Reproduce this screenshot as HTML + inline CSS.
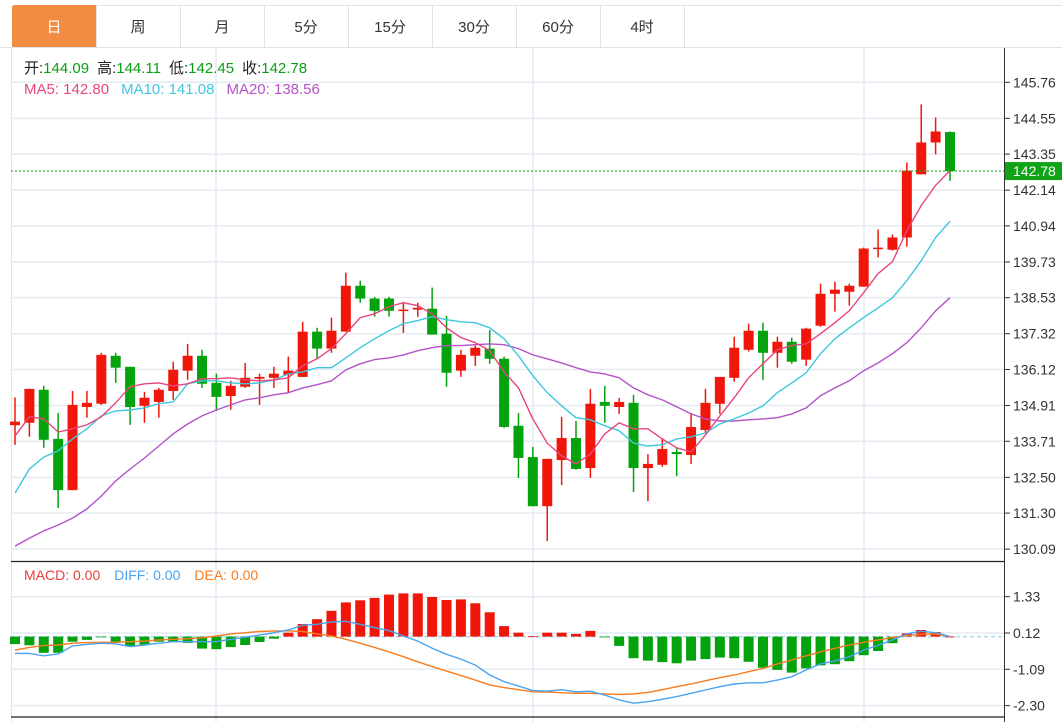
<!DOCTYPE html>
<html><head><meta charset="utf-8">
<style>
body{margin:0;background:#fff;width:1062px;height:722px;overflow:hidden;font-family:"Liberation Sans","Noto Sans CJK SC",sans-serif;}
svg{display:block}
</style></head>
<body>
<svg id="chart" width="1062" height="722" viewBox="0 0 1062 722" xmlns="http://www.w3.org/2000/svg" font-family="Liberation Sans, Noto Sans CJK SC, sans-serif">
  <g id="tabs"></g>
  <line x1="0" y1="47.5" x2="1062" y2="47.5" stroke="#dde3ea"/>
  <g id="grid"></g>
  <g id="candles"></g>
  <g id="malines"></g>
  <g id="macd"></g>
  <g id="axis"></g>
  <g font-size="15">
    <text x="24" y="73"><tspan fill="#222">开:</tspan><tspan fill="#0a9e14">144.09</tspan><tspan fill="#222" dx="8">高:</tspan><tspan fill="#0a9e14">144.11</tspan><tspan fill="#222" dx="8">低:</tspan><tspan fill="#0a9e14">142.45</tspan><tspan fill="#222" dx="8">收:</tspan><tspan fill="#0a9e14">142.78</tspan></text>
    <text x="24" y="94"><tspan fill="#e8457e">MA5: 142.80</tspan><tspan fill="#3ec7dd" dx="12">MA10: 141.08</tspan><tspan fill="#b452c8" dx="12">MA20: 138.56</tspan></text>
  </g>
  <g font-size="14">
    <text x="24" y="580"><tspan fill="#e8403a">MACD: 0.00</tspan><tspan fill="#4aa3f0" dx="14">DIFF: 0.00</tspan><tspan fill="#f57c20" dx="14">DEA: 0.00</tspan></text>
  </g>
</svg>
<script>
const tabLabels=["日","周","月","5分","15分","30分","60分","4时"];
const opens=[134.25,134.33,135.44,133.79,132.07,134.86,134.97,136.58,136.21,134.90,135.03,135.40,136.08,136.58,135.67,135.23,135.54,135.81,135.84,135.94,135.87,137.39,136.82,137.39,138.93,138.50,138.50,138.09,138.13,138.16,137.32,136.08,136.58,136.82,136.48,134.23,133.18,131.53,133.08,133.82,132.81,135.03,134.86,135.00,132.81,132.92,133.35,133.25,134.09,134.97,135.84,136.78,137.42,136.68,137.05,136.45,137.59,138.66,138.73,138.90,140.18,140.14,140.55,142.67,143.74,144.09];
const closes=[134.37,135.47,133.76,132.07,134.93,135.00,136.61,136.18,134.86,135.17,135.44,136.11,136.58,135.64,135.20,135.57,135.84,135.87,135.98,136.08,137.39,136.82,137.42,138.93,138.50,138.09,138.09,138.13,138.19,137.29,136.01,136.61,136.85,136.48,134.19,133.15,131.53,133.12,133.82,132.78,134.97,134.90,135.03,132.81,132.95,133.45,133.28,134.19,135.00,135.87,136.85,137.42,136.68,137.05,136.38,137.49,138.66,138.80,138.93,140.18,140.21,140.55,142.80,143.74,144.11,142.78];
const highs=[135.18,135.47,135.57,134.66,135.40,135.40,136.68,136.68,136.21,135.37,135.50,136.38,136.98,136.78,135.98,135.74,136.34,135.98,136.21,136.55,137.72,137.52,137.86,139.37,139.10,138.56,138.56,138.39,138.36,138.87,137.92,136.78,136.92,137.45,136.55,134.66,133.52,133.12,134.53,134.39,135.47,135.57,135.17,135.27,133.28,133.82,133.49,134.66,135.47,135.87,137.22,137.66,137.69,137.22,137.19,137.52,139.00,139.07,139.00,140.21,140.82,140.65,143.07,145.02,144.58,144.11];
const lows=[133.59,133.86,133.49,131.47,132.07,134.50,134.93,135.67,134.26,134.33,134.50,135.10,135.77,135.50,134.73,134.77,135.50,134.93,135.50,135.33,135.87,136.48,136.68,137.39,138.36,137.89,137.89,137.35,137.89,137.29,135.54,135.87,136.24,136.31,134.16,132.48,131.53,130.36,132.24,132.75,132.48,134.33,134.63,132.01,131.70,132.85,132.54,132.95,133.96,134.63,135.71,136.72,135.77,136.18,136.31,136.24,137.55,138.06,138.26,138.90,139.88,140.11,140.24,142.67,143.34,142.45];
const ma5=[133.89,134.53,134.46,134.02,134.13,134.26,134.53,135.00,135.54,135.64,135.67,135.57,135.64,135.81,135.81,135.84,135.77,135.74,135.77,135.84,136.24,136.48,136.82,137.32,137.86,137.99,138.23,138.36,138.26,137.99,137.52,137.19,137.02,136.75,136.04,135.50,134.46,133.65,133.22,132.95,133.28,133.96,134.33,134.13,134.13,133.79,133.49,133.35,133.92,134.56,135.17,135.84,136.31,136.78,136.92,136.98,137.32,137.69,138.09,138.70,139.34,139.74,140.78,141.62,142.30,142.80];
const ma10=[131.97,132.78,133.18,133.39,133.79,134.13,134.56,134.73,134.76,134.83,134.97,135.03,135.64,135.74,135.74,135.67,135.64,135.67,135.77,135.97,136.04,136.18,136.18,136.51,136.85,137.15,137.42,137.66,137.76,137.89,137.79,137.72,137.69,137.52,137.15,136.58,135.91,135.34,134.90,134.50,134.43,134.23,134.06,133.65,133.55,133.59,133.79,133.86,133.99,134.29,134.46,134.66,134.90,135.34,135.67,136.01,136.65,137.15,137.52,137.86,138.19,138.53,139.10,139.77,140.55,141.09];
const ma20=[130.19,130.46,130.70,130.90,131.13,131.44,131.87,132.38,132.78,133.15,133.55,133.96,134.29,134.56,134.76,134.93,135.10,135.17,135.27,135.34,135.50,135.61,135.74,136.11,136.31,136.45,136.51,136.61,136.75,136.85,136.92,136.92,136.95,136.98,136.95,136.82,136.61,136.48,136.34,136.18,136.04,135.97,135.84,135.50,135.27,135.10,134.87,134.63,134.46,134.39,134.39,134.43,134.46,134.50,134.63,134.83,135.24,135.50,135.74,136.08,136.34,136.65,137.02,137.52,138.09,138.53];
const macdBars=[-0.25,-0.29,-0.54,-0.54,-0.17,-0.11,-0.02,-0.17,-0.31,-0.28,-0.17,-0.16,-0.21,-0.40,-0.42,-0.35,-0.28,-0.18,-0.07,0.13,0.42,0.58,0.86,1.14,1.21,1.29,1.40,1.44,1.44,1.32,1.22,1.24,1.11,0.81,0.35,0.13,0.01,0.13,0.13,0.09,0.19,-0.02,-0.31,-0.72,-0.80,-0.85,-0.89,-0.80,-0.75,-0.70,-0.72,-0.84,-1.04,-1.11,-1.20,-1.06,-0.96,-0.92,-0.82,-0.62,-0.48,-0.22,0.11,0.22,0.15,0.00];
const diff=[-0.56,-0.56,-0.64,-0.58,-0.31,-0.26,-0.22,-0.24,-0.33,-0.28,-0.22,-0.17,-0.17,-0.17,-0.17,-0.09,-0.02,0.05,0.13,0.22,0.38,0.41,0.49,0.51,0.41,0.30,0.20,0.02,-0.15,-0.39,-0.59,-0.75,-0.95,-1.28,-1.50,-1.65,-1.80,-1.82,-1.77,-1.84,-1.82,-1.95,-2.11,-2.22,-2.17,-2.09,-2.00,-1.89,-1.78,-1.67,-1.58,-1.54,-1.54,-1.45,-1.34,-1.11,-0.91,-0.81,-0.67,-0.45,-0.29,-0.11,0.09,0.18,0.13,0.00];
const dea=[-0.45,-0.36,-0.30,-0.28,-0.22,-0.20,-0.19,-0.19,-0.17,-0.15,-0.11,-0.09,-0.07,-0.04,0.02,0.09,0.13,0.17,0.19,0.19,0.17,0.09,0.02,-0.09,-0.22,-0.36,-0.51,-0.67,-0.84,-1.00,-1.15,-1.30,-1.45,-1.61,-1.70,-1.77,-1.84,-1.85,-1.87,-1.89,-1.89,-1.91,-1.93,-1.91,-1.86,-1.77,-1.67,-1.58,-1.47,-1.37,-1.28,-1.17,-1.06,-0.91,-0.78,-0.64,-0.51,-0.39,-0.28,-0.19,-0.11,-0.03,0.03,0.08,0.09,0.00];
const priceTicks=[145.76,144.55,143.35,142.14,140.94,139.73,138.53,137.32,136.12,134.91,133.71,132.50,131.30,130.09];
const macdTicks=[1.33,0.12,-1.09,-2.30];
const lastPrice=142.78;

const NS="http://www.w3.org/2000/svg";
function mk(tag,attrs,parent){const e=document.createElementNS(NS,tag);for(const k in attrs)e.setAttribute(k,attrs[k]);parent.appendChild(e);return e;}
const X0=15, STEP=(950-15)/65;
function xOf(i){return X0+i*STEP;}
function yP(p){return 82.3+(145.76-p)*29.79;}
function yM(v){return 636.6-v*30;}
const RED="#f0170a", GREEN="#04a30e";

const tabs=document.getElementById('tabs');
tabLabels.forEach((t,i)=>{
  const x=12+i*84;
  const r=mk('rect',{x:x+0.5,y:5.5,width:84,height:42,fill:i===0?"#f28c42":"#fff",stroke:i===0?"#f28c42":"#dde3ea",rx:i===0?2:0},tabs);
  
  
  const tx=mk('text',{x:x+42,y:32,'text-anchor':'middle','font-size':15,fill:i===0?"#fff":"#333"},tabs);
  tx.textContent=t;
  
  
});
mk('line',{x1:684,y1:5.5,x2:1062,y2:5.5,stroke:"#dde3ea"},tabs);

const grid=document.getElementById('grid');
priceTicks.forEach(p=>{const l=mk('line',{x1:11,x2:1004,y1:yP(p),y2:yP(p),stroke:"#e4ebf2","stroke-width":1.5},grid);
  
  });
macdTicks.forEach(v=>{const l=mk('line',{x1:11,x2:1004,y1:yM(v),y2:yM(v),stroke:"#e4ebf2","stroke-width":1.5},grid);
  
  });
[216,533,864].forEach(x=>{mk('line',{x1:x,x2:x,y1:48,y2:722,stroke:"#e4ebf2","stroke-width":1.5},grid);});
mk('line',{x1:11.5,x2:11.5,y1:48,y2:722,stroke:"#dfe6ee","stroke-width":1},grid);
mk('line',{x1:1004.5,x2:1004.5,y1:48,y2:722,stroke:"#333","stroke-width":1},grid);
mk('line',{x1:11,x2:1004,y1:561.5,y2:561.5,stroke:"#222","stroke-width":1.2},grid);
mk('line',{x1:11,x2:1004,y1:717,y2:717,stroke:"#222","stroke-width":1.2},grid);

const cg=document.getElementById('candles');
opens.forEach((o,i)=>{
  const c=closes[i], up=c>=o, col=up?RED:GREEN, x=xOf(i);
  const g=mk('g',{},cg);
  
  
  mk('line',{x1:x,x2:x,y1:yP(highs[i]),y2:yP(lows[i]),stroke:col,"stroke-width":1.5},g);
  const top=yP(Math.max(o,c)), bot=yP(Math.min(o,c));
  mk('rect',{x:x-5,y:top,width:10,height:Math.max(bot-top,1.5),fill:col},g);
});
const lp=mk('line',{x1:11,x2:1004,y1:yP(lastPrice),y2:yP(lastPrice),stroke:"#1ea81e","stroke-dasharray":"2,2","stroke-width":1.2},cg);



const mg=document.getElementById('malines');
function poly(arr,fy,col,name,parent){
  const pts=arr.map((v,i)=>xOf(i).toFixed(1)+","+fy(v).toFixed(1)).join(" ");
  const p=mk('polyline',{points:pts,fill:"none",stroke:col,"stroke-width":1.4},parent);
  
  
}
poly(ma20,yP,"#b452c8",'ma20-line',mg);
poly(ma10,yP,"#3ec7dd",'ma10-line',mg);
poly(ma5,yP,"#e8457e",'ma5-line',mg);

const md=document.getElementById('macd');
const zl=mk('line',{x1:11,x2:1004,y1:yM(0),y2:yM(0),stroke:"#a8d8ee","stroke-dasharray":"4,3","stroke-width":1.5},md);


macdBars.forEach((v,i)=>{
  const y0=yM(0), y1=yM(v);
  const r=mk('rect',{x:xOf(i)-5,y:Math.min(y0,y1),width:10,height:Math.max(Math.abs(y1-y0),0.8),fill:v>=0?RED:GREEN},md);
  
  
});
poly(dea,yM,"#f57c20",'dea-line',md);
poly(diff,yM,"#4aa3f0",'diff-line',md);

const ax=document.getElementById('axis');
priceTicks.forEach(p=>{
  mk('line',{x1:1005,x2:1010,y1:yP(p),y2:yP(p),stroke:"#333"},ax);
  const t=mk('text',{x:1013,y:yP(p)+5,'font-size':14,fill:"#333"},ax);
  t.textContent=p.toFixed(2);
  
  
});
macdTicks.forEach(v=>{
  const y=yM(v);
  mk('line',{x1:1005,x2:1010,y1:y,y2:y,stroke:"#333"},ax);
  const t=mk('text',{x:1013,y:y+5,'font-size':14,fill:"#333"},ax);
  t.textContent=(v<0?"-":"")+Math.abs(v).toFixed(2);
  
  
});
const ly=yP(lastPrice);
const lb=mk('rect',{x:1005,y:ly-9,width:57,height:18,fill:"#10a318"},ax);


const lt=mk('text',{x:1013,y:ly+5,'font-size':14,fill:"#fff"},ax);
lt.textContent=lastPrice.toFixed(2);


</script>
</body></html>
